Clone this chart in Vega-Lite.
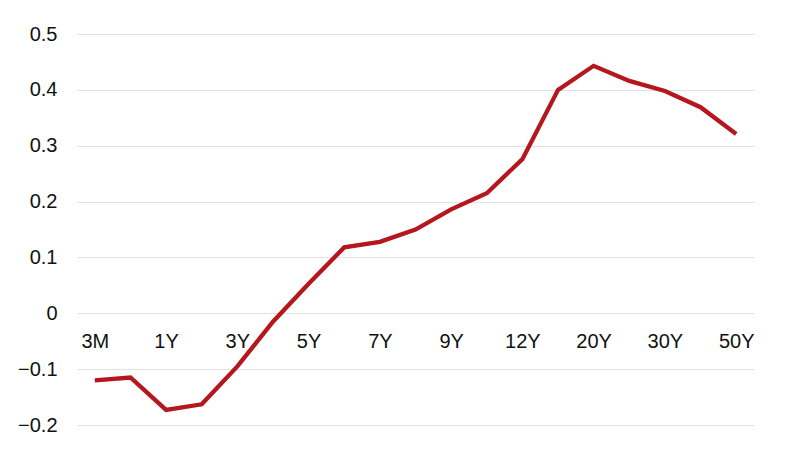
{
  "$schema": "https://vega.github.io/schema/vega-lite/v6.json",
  "width": 677,
  "height": 391,
  "autosize": {"type": "none"},
  "padding": {"left": 77, "top": 34, "right": 46, "bottom": 34},
  "background": "white",
  "config": {"view": {"stroke": null}, "font": "Liberation Sans"},
  "data": {"values": [
    {"tenor": "3M", "yield": -0.12},
    {"tenor": "6M", "yield": -0.115},
    {"tenor": "1Y", "yield": -0.173},
    {"tenor": "2Y", "yield": -0.163},
    {"tenor": "3Y", "yield": -0.095},
    {"tenor": "4Y", "yield": -0.015},
    {"tenor": "5Y", "yield": 0.053},
    {"tenor": "6Y", "yield": 0.118},
    {"tenor": "7Y", "yield": 0.128},
    {"tenor": "8Y", "yield": 0.15},
    {"tenor": "9Y", "yield": 0.186},
    {"tenor": "10Y", "yield": 0.215},
    {"tenor": "12Y", "yield": 0.276},
    {"tenor": "15Y", "yield": 0.4},
    {"tenor": "20Y", "yield": 0.443},
    {"tenor": "25Y", "yield": 0.416},
    {"tenor": "30Y", "yield": 0.398},
    {"tenor": "40Y", "yield": 0.369},
    {"tenor": "50Y", "yield": 0.321}
  ]},
  "mark": {"type": "line", "color": "#b5171f", "strokeWidth": 4.3, "strokeJoin": "miter"},
  "encoding": {
    "x": {
      "field": "tenor", "type": "ordinal", "sort": null,
      "scale": {"type": "point", "padding": 0.5},
      "axis": {
        "title": null, "domain": false, "ticks": false, "grid": false,
        "labelAngle": 0, "labelFontSize": 20, "labelColor": "#111",
        "labelPadding": 18, "offset": -112,
        "labelExpr": "indexof(['3M','1Y','3Y','5Y','7Y','9Y','12Y','20Y','30Y','50Y'], datum.value) >= 0 ? datum.value : ''"
      }
    },
    "y": {
      "field": "yield", "type": "quantitative",
      "scale": {"domain": [-0.2, 0.5], "nice": false, "zero": false},
      "axis": {
        "title": null, "domain": false, "ticks": false,
        "values": [-0.2, -0.1, 0, 0.1, 0.2, 0.3, 0.4, 0.5],
        "labelExpr": "datum.value == 0 ? '0' : format(datum.value, '.1f')",
        "labelFontSize": 20, "labelColor": "#111", "labelPadding": 20,
        "gridColor": "#e2e2e2", "gridWidth": 1.2
      }
    }
  }
}
